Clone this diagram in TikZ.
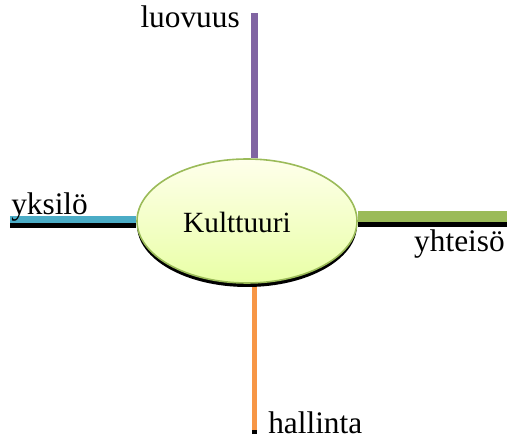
\documentclass[tikz,border=0pt]{standalone}
\usepackage{fontspec}
\setmainfont{Liberation Serif}
\usetikzlibrary{shapes.geometric,backgrounds}
\definecolor{luovcol}{HTML}{8064A2}
\definecolor{hallcol}{HTML}{F79646}
\definecolor{yksicol}{HTML}{4BACC6}
\definecolor{yhtecol}{HTML}{9BBB59}
\tikzset{
  sana/.style={inner sep=0pt,font=\fontsize{23.5}{28}\selectfont},
  soikio/.style={ellipse,inner sep=0pt,minimum width=165pt,minimum height=93pt},
  varjo/.style={black,line width=#1},
  haara/.style={line width=#1}
}
\begin{document}
\begin{tikzpicture}[x=0.75pt,y=-0.75pt]
                    \useasboundingbox (0,0) rectangle (507,438);
                    \node[soikio,fill=black] (varjo) at (247,225) {};
                    \node[soikio,draw=yhtecol,line width=1.2pt,
                          top color=green!3!yellow!8,bottom color=green!25!yellow!35] (kult) at (247,221) {};
                    \node[sana,anchor=base,font=\fontsize{22}{26}\selectfont] (kultteksti) at (237,233) {Kulttuuri};
                    \coordinate (ylos) at (254,13);
                    \coordinate (alas) at (254.5,430);
                    \coordinate (vasen) at (10,219.5);
                    \coordinate (oikea) at (507,216.5);
                    \begin{scope}[on background layer]
                    \draw[varjo=7*0.75pt] (ylos) ++(0,4) -- (kult.north -| ylos);
                    \draw[haara=7*0.75pt,luovcol] (ylos) -- (kult.north -| ylos);
                    \draw[varjo=5*0.75pt] (alas) ++(0,4) -- (kult.south -| alas);
                    \draw[haara=5*0.75pt,hallcol] (alas) -- (kult.south -| alas);
                    \draw[varjo=7*0.75pt] (vasen) ++(0,5) -- ([yshift=-5*0.75pt]kult.west |- vasen);
                    \draw[haara=7*0.75pt,yksicol] (vasen) -- (kult.west |- vasen);
                    \draw[varjo=11*0.75pt] (oikea) ++(0,5) -- ([yshift=-5*0.75pt]kult.east |- oikea);
                    \draw[haara=11*0.75pt,yhtecol] (oikea) -- (kult.east |- oikea);
                    \end{scope}
                    \node[sana,anchor=base east] (luovuus) at (240,28) {luovuus};
                    \node[sana,anchor=base west] (yksilo) at (11,215) {yksilö};
                    \node[sana,anchor=base east] (yhteiso) at (505,252) {yhteisö};
                    \node[sana,anchor=base west] (hallinta) at (268,433) {hallinta};
\end{tikzpicture}
\end{document}
